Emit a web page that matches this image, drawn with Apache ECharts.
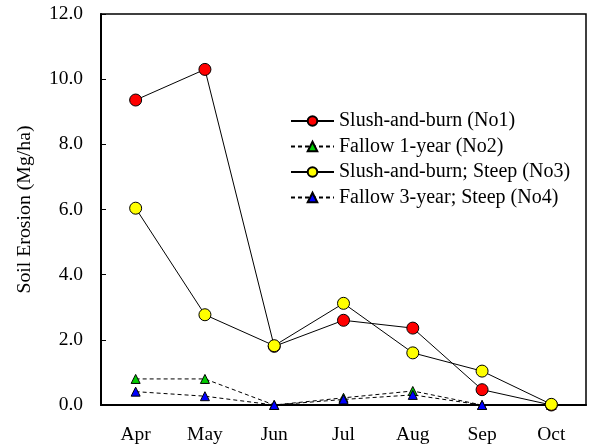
<!DOCTYPE html>
<html><head><meta charset="utf-8">
<script src="https://cdn.jsdelivr.net/npm/echarts@6/dist/echarts.min.js"></script>
<style>html,body{margin:0;padding:0;background:#fff}#c{width:593px;height:448px}</style>
</head><body><div id="c"></div>
<script>
const months = ['Apr','May','Jun','Jul','Aug','Sep','Oct'];
const no1 = [9.36, 10.3, 1.8, 2.6, 2.36, 0.47, 0.0];
const no2 = [0.8, 0.8, 0.0, 0.22, 0.43, 0.0, 0.0];
const no3 = [6.04, 2.77, 1.82, 3.12, 1.6, 1.04, 0.02];
const no4 = [0.41, 0.27, 0.0, 0.17, 0.31, 0.0, 0.0];
const names = ['Slush-and-burn (No1)','Fallow 1-year (No2)','Slush-and-burn; Steep (No3)','Fallow 3-year; Steep (No4)'];
const yTicks = ['0.0','2.0','4.0','6.0','8.0','10.0','12.0'];
const F = '"Liberation Serif","Times New Roman",serif';
const chart = echarts.init(document.getElementById('c'));
function ser(name, data, symbol, color, dashed, size){
  return {name, type:'line', data, symbol, symbolSize:size, z: dashed?2:3,
    itemStyle:{color, borderColor:'#000', borderWidth:1},
    lineStyle:{color:'#000', width:1, type: dashed?[4,3]:'solid'}};
}
chart.setOption({
  animation:false,
  grid:{left:101, top:14, right:7, bottom:43, show:true, borderColor:'#000', borderWidth:1.5},
  legend:{left:290, top:111, padding:0, orient:'vertical', itemGap:5.5, itemWidth:43, itemHeight:12,
    textStyle:{fontFamily:F, fontSize:20, color:'#000'}, data:names},
  xAxis:{type:'category', data:months, boundaryGap:true,
    axisLine:{lineStyle:{color:'#000', width:2}}, axisTick:{show:false},
    axisLabel:{fontFamily:F, fontSize:19.5, color:'#000', margin:20}},
  yAxis:{type:'value', min:0, max:12, interval:2,
    name:'Soil Erosion (Mg/ha)', nameLocation:'middle', nameGap:66, nameRotate:90,
    nameTextStyle:{fontFamily:F, fontSize:19.8, color:'#000'},
    axisLine:{show:true, lineStyle:{color:'#000', width:2}},
    axisTick:{show:true, inside:true, length:5, lineStyle:{color:'#000'}},
    splitLine:{show:false},
    axisLabel:{fontFamily:F, fontSize:19.5, color:'#000', margin:18, formatter:v=>yTicks[Math.round(v/2)]}},
  series:[
    ser(names[0], no1, 'circle', '#ff0000', false, 12),
    ser(names[1], no2, 'triangle', '#00cc00', true, 9),
    ser(names[2], no3, 'circle', '#ffff00', false, 12),
    ser(names[3], no4, 'triangle', '#0000ff', true, 9)
  ]
});
</script></body></html>
